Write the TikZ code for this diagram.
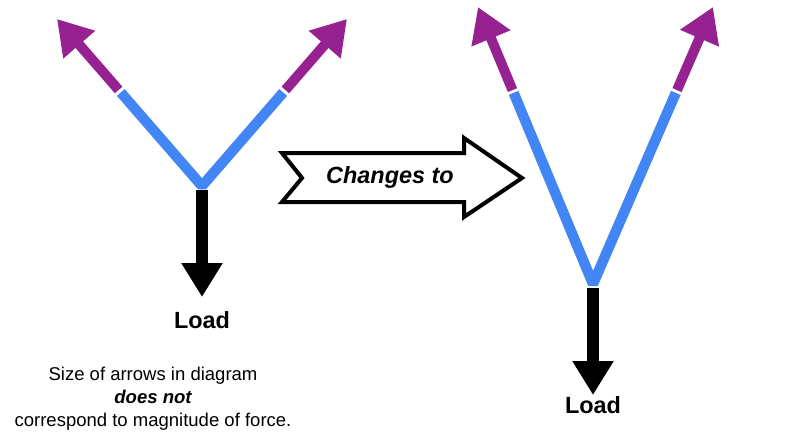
\documentclass[tikz,border=0pt]{standalone}
\usepackage{fontspec}
\setmainfont{Liberation Sans}
\usetikzlibrary{calc,arrows.meta}
\definecolor{strutblue}{HTML}{4285F4}
\definecolor{forcepurple}{HTML}{952290}
\tikzset{
	strutline/.style={line width=0.31cm, color=strutblue, line join=bevel},
	forcearrow/.style={line width=0.3cm, color=forcepurple, -{Triangle[length=1.02cm,width=1.2cm]}},
	loadarrow/.style={line width=0.34cm, color=black, -{Triangle[length=1.02cm,width=1.17cm]}},
	loadlabel/.style={font=\fontsize{20}{24}\selectfont\bfseries},
}
\begin{document}
\begin{tikzpicture}[x=0.03cm, y=-0.03cm]
			%%%%% START %%%%%
			\useasboundingbox (0,0) rectangle (800,440);
			
			% before
			\coordinate (lj) at (202,186);
			\coordinate (lltip) at (57,19);
			\coordinate (lrtip) at (347,19);
			\coordinate (ltop) at (202,190);
			\coordinate (lfoot) at (202,297);
			
			\draw[strutline] ($(lj)!0.56!(lltip)$) -- (lj) -- ($(lj)!0.56!(lrtip)$);
			\draw[forcearrow] ($(lj)!0.575!(lltip)$) -- (lltip);
			\draw[forcearrow] ($(lj)!0.575!(lrtip)$) -- (lrtip);
			\draw[loadarrow] (ltop) -- (lfoot);
			\node[loadlabel] (lload) at (202,320) {Load};
			
			\node[font=\fontsize{15.8}{19.6}\selectfont, align=center, inner sep=0] (note) at (153,399)
				{Size of arrows in diagram\\ {\bfseries\itshape does not}\\ correspond to magnitude of force.};
			
			% changes to
			\draw[line width=0.12cm, line join=miter] (282,153) -- (464,153) -- (464,138) -- (522,178)
				-- (464,217) -- (464,202) -- (282,202) -- (302,178) -- cycle;
			\node[font=\fontsize{20}{24}\selectfont\bfseries\itshape] (chg) at (390,177) {Changes to};
			
			% after
			\coordinate (rj) at (593,284);
			\coordinate (rltip) at (478,7);
			\coordinate (rrtip) at (713,7);
			\coordinate (rtop) at (593,288);
			\coordinate (rfoot) at (593,395);
			
			\draw[strutline] ($(rj)!0.69!(rltip)$) -- (rj) -- ($(rj)!0.69!(rrtip)$);
			\draw[forcearrow] ($(rj)!0.70!(rltip)$) -- (rltip);
			\draw[forcearrow] ($(rj)!0.70!(rrtip)$) -- (rrtip);
			\draw[loadarrow] (rtop) -- (rfoot);
			\node[loadlabel] (rload) at (593,405) {Load};
			%%%%% END %%%%%
\end{tikzpicture}
\end{document}
